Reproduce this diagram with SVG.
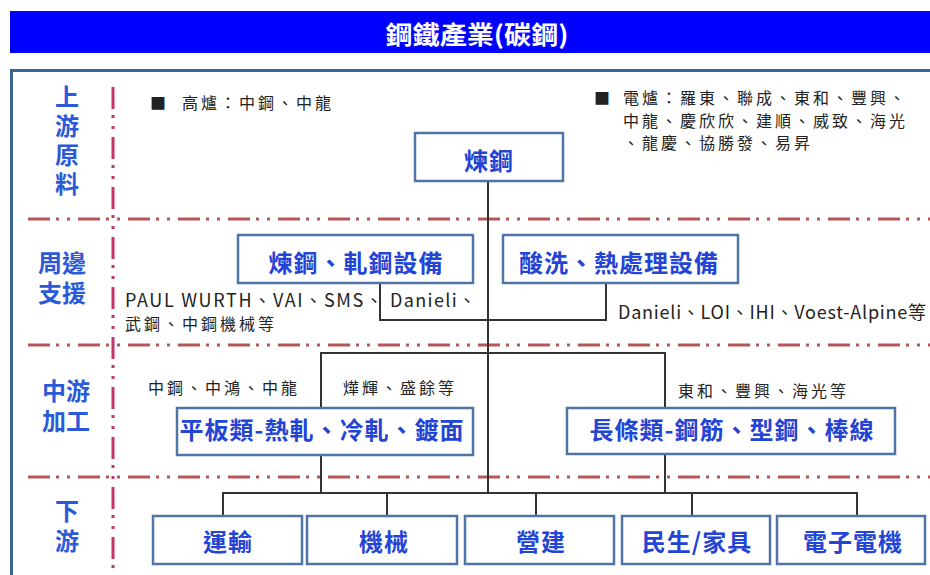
<svg xmlns="http://www.w3.org/2000/svg" width="930" height="575" viewBox="0 0 930 575">
<defs>
<style>
.box{fill:#ffffff;stroke:#4f74a6;stroke-width:2.5}
.bt{font-family:"Noto Sans CJK TC","Noto Sans CJK SC",sans-serif;font-size:24px;font-weight:bold;fill:#2344d4;text-anchor:middle;dominant-baseline:central;letter-spacing:1px}
.side{font-family:"Noto Sans CJK TC","Noto Sans CJK SC",sans-serif;font-size:24px;font-weight:bold;fill:#2b5ad8;text-anchor:middle;dominant-baseline:central}
.vside{font-family:"Noto Sans CJK TC","Noto Sans CJK SC",sans-serif;font-size:24px;font-weight:bold;fill:#2b5ad8;writing-mode:vertical-rl;text-anchor:start}
.note{font-family:"Noto Sans CJK TC","Noto Sans CJK SC",sans-serif;font-size:16px;fill:#222222;dominant-baseline:central;letter-spacing:3px}
.lat{font-family:"Noto Sans CJK TC","Noto Sans CJK SC",sans-serif;font-size:18px;fill:#222222;dominant-baseline:central}
.hdash{fill:none;stroke:#b85656;stroke-width:3;stroke-dasharray:22 6 3 8 3 8}
.vdash{fill:none;stroke:#c2346a;stroke-width:3;stroke-dasharray:22 6 3 8 3 8}
.conn{fill:none;stroke:#333333;stroke-width:2}
</style>
</defs>
<rect x="0" y="0" width="930" height="575" fill="#ffffff"/>
<g id="title">
<rect x="10" y="11" width="922" height="42" fill="#0000ff"/>
<text x="477" y="33" font-family="'Noto Sans CJK TC','Noto Sans CJK SC',sans-serif" font-size="25" font-weight="bold" fill="#ffffff" text-anchor="middle" dominant-baseline="central" textLength="183" lengthAdjust="spacingAndGlyphs">鋼鐵產業(碳鋼)</text>
</g>
<g id="frame">
<rect x="11.5" y="70.5" width="940" height="520" fill="#ffffff" stroke="#3d6494" stroke-width="3"/>
</g>
<g id="dividers">
<path class="hdash" d="M28,219 H930"/>
<path class="hdash" d="M28,345 H930"/>
<path class="hdash" d="M28,477 H930"/>
<path class="vdash" d="M113,87 V575"/>
</g>
<g id="stage-labels">
<text class="vside" x="67" y="85" letter-spacing="5">上游原料</text>
<text class="side"><tspan x="62" y="261">周邊</tspan><tspan x="62" y="291">支援</tspan></text>
<text class="side"><tspan x="66" y="389">中游</tspan><tspan x="66" y="419">加工</tspan></text>
<text class="vside" x="67" y="499" letter-spacing="6">下游</text>
</g>
<g id="connectors">
<path class="conn" d="M488,181 V493"/>
<path class="conn" d="M380,283 V320 H606 V283"/>
<path class="conn" d="M321,408 V353 H665 V408"/>
<path class="conn" d="M321,455 V493"/>
<path class="conn" d="M665,454 V493"/>
<path class="conn" d="M223,516 V493 H857 V516"/>
<path class="conn" d="M387,493 V516"/>
<path class="conn" d="M536,493 V516"/>
<path class="conn" d="M692,493 V516"/>
</g>
<g id="node-lianGang">
<rect class="box" x="415" y="133" width="148" height="48"/>
<text class="bt" x="489" y="159">煉鋼</text>
</g>
<g id="node-equip1">
<rect class="box" x="238" y="235" width="235" height="48"/>
<text class="bt" x="356" y="261">煉鋼、軋鋼設備</text>
</g>
<g id="node-equip2">
<rect class="box" x="503" y="235" width="235" height="48"/>
<text class="bt" x="619" y="261">酸洗、熱處理設備</text>
</g>
<g id="node-flat">
<rect class="box" x="177" y="408" width="296" height="47"/>
<text class="bt" x="322" y="428">平板類-熱軋、冷軋、鍍面</text>
</g>
<g id="node-long">
<rect class="box" x="567" y="408" width="328" height="46"/>
<text class="bt" x="732" y="428">長條類-鋼筋、型鋼、棒線</text>
</g>
<g id="node-transport">
<rect class="box" x="153" y="516" width="149" height="48"/>
<text class="bt" x="228" y="540">運輸</text>
</g>
<g id="node-machinery">
<rect class="box" x="307" y="516" width="150" height="48"/>
<text class="bt" x="384" y="540">機械</text>
</g>
<g id="node-construction">
<rect class="box" x="465" y="516" width="149" height="48"/>
<text class="bt" x="541" y="540">營建</text>
</g>
<g id="node-furniture">
<rect class="box" x="622" y="516" width="148" height="48"/>
<text class="bt" x="697" y="540">民生/家具</text>
</g>
<g id="node-electric">
<rect class="box" x="777" y="516" width="148" height="48"/>
<text class="bt" x="853" y="540">電子電機</text>
</g>
<g id="notes">
<text class="note" x="150" y="102" font-size="12" letter-spacing="0">■</text>
<text class="note" x="182" y="102">高爐：中鋼、中龍</text>
<text class="note" x="594" y="97" font-size="12" letter-spacing="0">■</text>
<text class="note" x="623" y="97">電爐：羅東、聯成、東和、豐興、</text>
<text class="note" x="623" y="120">中龍、慶欣欣、建順、威致、海光</text>
<text class="note" x="623" y="142">、龍慶、協勝發、易昇</text>
<text class="lat" y="299"><tspan x="125" textLength="258" lengthAdjust="spacing">PAUL WURTH、VAI、SMS、</tspan><tspan x="390" textLength="86" lengthAdjust="spacing">Danieli、</tspan></text>
<text class="note" x="125" y="323">武鋼、中鋼機械等</text>
<text class="lat" x="618" y="311" textLength="308" lengthAdjust="spacing">Danieli、LOI、IHI、Voest-Alpine等</text>
<text class="note" x="148" y="387">中鋼、中鴻、中龍</text>
<text class="note" x="343" y="387">燁輝、盛餘等</text>
<text class="note" x="678" y="390">東和、豐興、海光等</text>
</g>
</svg>
